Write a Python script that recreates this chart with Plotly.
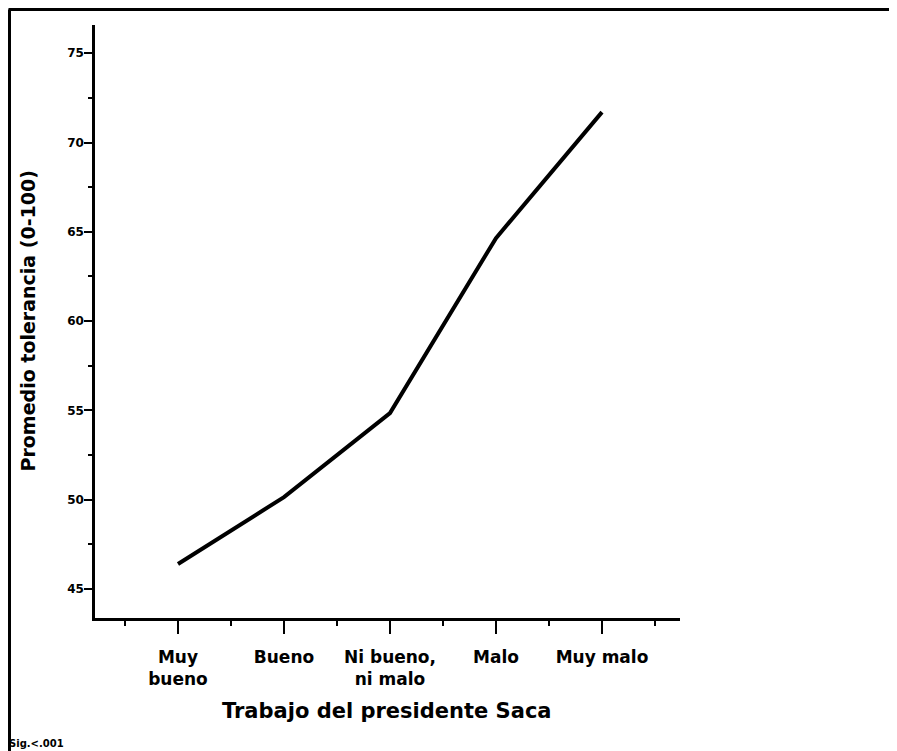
import plotly.graph_objects as go

categories = ["Muy<br>bueno", "Bueno", "Ni bueno,<br>ni malo", "Malo", "Muy malo"]
tolerancia = [46.4, 50.15, 54.85, 64.65, 71.7]
y_ticks = [45, 50, 55, 60, 65, 70, 75]

# the page has an 8px body margin; work in screenshot coordinates, shift by OFF
OFF = 8
W, H = 897 - OFF, 751 - OFF
L, R, T, B = 95 - OFF, 680 - OFF, 25 - OFF, 618 - OFF  # plot area (figure px)

def px(x):  # screenshot x -> paper
    return (x - OFF - L) / (R - L)

def py(y):  # screenshot y -> paper
    return (B - (y - OFF)) / (B - T)

xs = list(range(len(categories)))

fig = go.Figure()
fig.add_trace(go.Scatter(
    x=xs, y=tolerancia, mode="lines",
    line=dict(color="black", width=4),
    hoverinfo="skip", showlegend=False,
))

FONT = "DejaVu Sans"

fig.update_layout(
    width=W, height=H,
    margin=dict(l=L, r=W - R, t=T, b=H - B, pad=0),
    paper_bgcolor="white", plot_bgcolor="white",
    font=dict(family=FONT, color="black"),
    xaxis=dict(
        range=[-0.783, 4.736],
        tickmode="array", tickvals=xs, ticktext=categories,
        tickfont=dict(family=FONT, size=17, weight="bold", color="black"),
        ticklabelstandoff=9,
        showline=True, linecolor="black", linewidth=2.5,
        ticks="outside", ticklen=13, tickwidth=2, tickcolor="black",
        minor=dict(ticks="outside", tick0=0.5, dtick=1, ticklen=5,
                   tickwidth=2, tickcolor="black", showgrid=False),
        showgrid=False, zeroline=False, fixedrange=True,
    ),
    yaxis=dict(
        range=[43.38, 76.58],
        tickmode="array", tickvals=y_ticks,
        tickfont=dict(family=FONT, size=12, weight="bold", color="black"),
        ticklabelstandoff=-2,
        showline=True, linecolor="black", linewidth=2.5,
        ticks="outside", ticklen=8, tickwidth=2, tickcolor="black",
        minor=dict(ticks="outside", tick0=0, dtick=2.5, ticklen=4,
                   tickwidth=2, tickcolor="black", showgrid=False),
        showgrid=False, zeroline=False, fixedrange=True,
    ),
    annotations=[
        dict(text="Trabajo del presidente Saca", xref="paper", yref="paper",
             x=px(387), y=py(711), xanchor="center", yanchor="middle",
             showarrow=False,
             font=dict(family=FONT, size=21, weight="bold", color="black")),
        dict(text="Promedio tolerancia (0-100)", xref="paper", yref="paper",
             x=px(27), y=0.5, xanchor="center", yanchor="middle",
             textangle=-90, showarrow=False,
             font=dict(family=FONT, size=19, weight="bold", color="black")),
        dict(text="Sig.<.001", xref="paper", yref="paper",
             x=px(8), y=py(750), xanchor="left", yanchor="bottom",
             showarrow=False, borderpad=0,
             font=dict(family=FONT, size=10, weight="bold", color="black")),
    ],
    shapes=[
        dict(type="line", xref="paper", yref="paper",
             x0=px(8.5), x1=px(905), y0=py(9.5), y1=py(9.5),
             line=dict(color="black", width=3)),
        dict(type="line", xref="paper", yref="paper",
             x0=px(9.5), x1=px(9.5), y0=py(9.5), y1=py(760),
             line=dict(color="black", width=3)),
    ],
)

fig.write_html("out.html")
